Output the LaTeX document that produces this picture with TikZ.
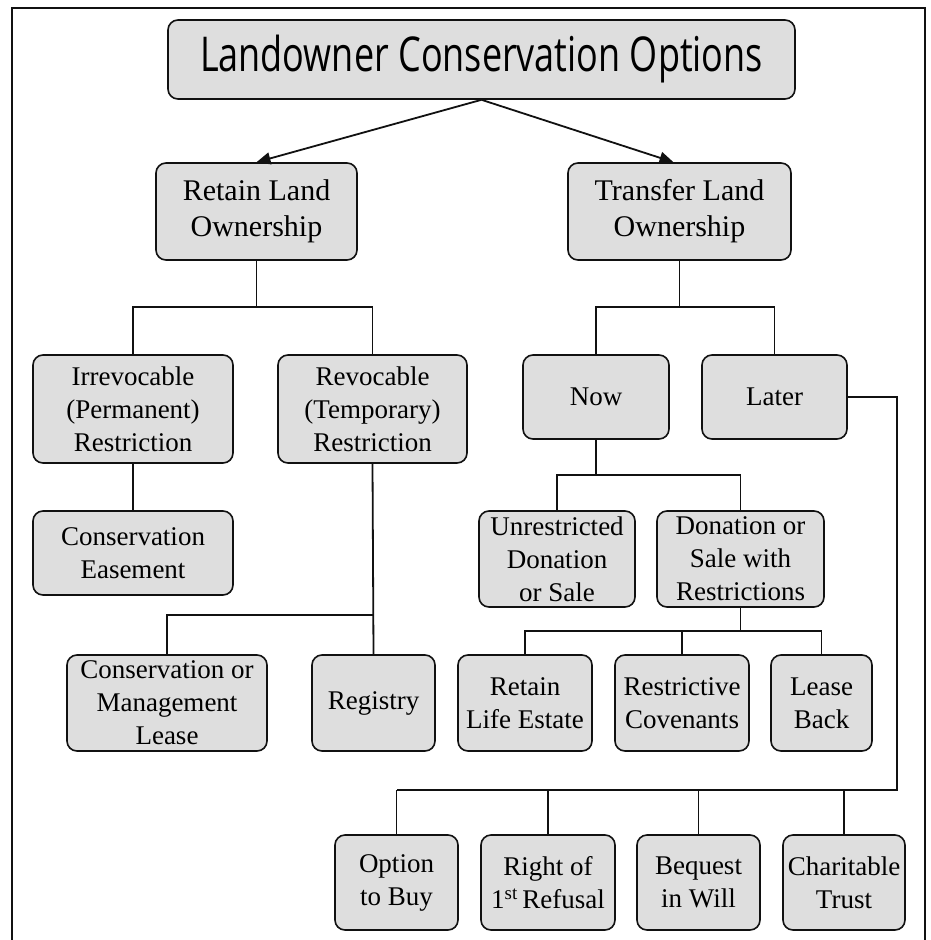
\documentclass[tikz,border=0pt]{standalone}
\usepackage{fontspec}
\setmainfont{Liberation Serif}
\newfontfamily\titlefont{Open Sans}
\usetikzlibrary{arrows.meta}
\definecolor{boxfill}{HTML}{DEDEDE}
\definecolor{ink}{HTML}{111111}
\tikzset{
  box/.style={draw=ink, line width=1.6pt, fill=boxfill, rounded corners=10pt,
    align=center, inner sep=0pt, font=\fontsize{27}{33}\selectfont},
  bigbox/.style={box, font=\fontsize{30}{36}\selectfont},
  conn/.style={draw=ink, line width=1.8pt},
  thickconn/.style={conn, line width=2.4pt},
  arr/.style={conn, -{Triangle[width=12pt,length=14pt]}},
}
\begin{document}
\begin{tikzpicture}[x=1pt,y=-1pt]
\useasboundingbox (0,0) rectangle (930,940);
\fill[white] (0,0) rectangle (930,940);
% frame
\draw[ink, line width=1.8pt] (12,990) -- (12,8) -- (925,8) -- (925,990);

% nodes
\node[box, minimum width=627pt, minimum height=79pt] (tit) at (481.5,59.5)
  {\titlefont\fontsize{48}{54}\selectfont\scalebox{0.75}[1]{Landowner Conservation Options}};
\node[bigbox, minimum width=201pt, minimum height=97pt] (ret) at (256.5,211.5) {Retain Land\\Ownership};
\node[bigbox, minimum width=223pt, minimum height=97pt] (tra) at (679.5,211.5) {Transfer Land\\Ownership};

\node[box, minimum width=200pt, minimum height=108pt] (irr) at (133,409) {Irrevocable\\(Permanent)\\Restriction};
\node[box, minimum width=189pt, minimum height=108pt] (rev) at (372.5,409) {Revocable\\(Temporary)\\Restriction};
\node[box, minimum width=200pt, minimum height=84pt] (ease) at (133,553) {Conservation\\Easement};

\node[box, minimum width=146pt, minimum height=84pt] (now) at (596,397) {Now};
\node[box, minimum width=145pt, minimum height=84pt] (lat) at (774.5,397) {Later};
\node[box, minimum width=156pt, minimum height=96pt] (unr) at (557,559) {Unrestricted\\Donation\\or Sale};
\node[box, minimum width=167pt, minimum height=96pt] (dsr) at (740.5,559) {Donation or\\Sale with\\Restrictions};

\node[box, minimum width=200pt, minimum height=96pt] (cml) at (167,703) {Conservation or\\Management\\Lease};
\node[box, minimum width=123pt, minimum height=96pt] (reg) at (373.5,703) {Registry};
\node[box, minimum width=134pt, minimum height=96pt] (rle) at (525,703) {Retain\\Life Estate};
\node[box, minimum width=134pt, minimum height=96pt] (rco) at (682,703) {Restrictive\\Covenants};
\node[box, minimum width=101pt, minimum height=96pt] (lbk) at (821.5,703) {Lease\\Back};

\node[box, minimum width=123pt, minimum height=95pt] (opt) at (396.5,882.5) {Option\\to Buy};
\node[box, minimum width=134pt, minimum height=95pt] (rfr) at (548,882.5) {Right of\\1\textsuperscript{st}\,Refusal};
\node[box, minimum width=123pt, minimum height=95pt] (beq) at (698.5,882.5) {Bequest\\in Will};
\node[box, minimum width=122pt, minimum height=95pt] (cht) at (844,882.5) {Charitable\\Trust};

% arrows from title
\draw[arr] (tit.south) -- (ret.north);
\draw[arr] (tit.south) -- ([xshift=-6pt]tra.north);

% retain tree
\draw[conn] (ret.south) -- (ret.south |- 0,307);
\draw[conn] (irr.north) -- (irr.north |- 0,307) -- (rev.north |- 0,307) -- (rev.north);
\draw[conn] (irr.south) -- (ease.north);
\draw[conn] (rev.south) -- (reg.north);
\draw[conn] (cml.north) -- (cml.north |- 0,615) -- (rev.south |- 0,615);

% transfer tree
\draw[conn] (tra.south) -- (tra.south |- 0,307);
\draw[conn] (now.north) -- (now.north |- 0,307) -- (lat.north |- 0,307) -- (lat.north);
\draw[conn] (now.south) -- (now.south |- 0,475);
\draw[conn] (unr.north) -- (unr.north |- 0,475) -- (dsr.north |- 0,475) -- (dsr.north);
\draw[conn] (dsr.south) -- (dsr.south |- 0,631);
\draw[conn] (rle.north) -- (rle.north |- 0,631) -- (lbk.north |- 0,631) -- (lbk.north);
\draw[conn] (rco.north) -- (rco.north |- 0,631);

% later
\coordinate (lbend) at (897,397);
\coordinate (lbus) at (897,790);
\draw[thickconn] (lat.east) -- (lbend) -- (lbus) -- (opt.north |- lbus);
\draw[conn] (opt.north) -- (opt.north |- lbus);
\draw[conn] (rfr.north) -- (rfr.north |- lbus);
\draw[conn] (beq.north) -- (beq.north |- lbus);
\draw[conn] (cht.north) -- (cht.north |- lbus);
\end{tikzpicture}
\end{document}
